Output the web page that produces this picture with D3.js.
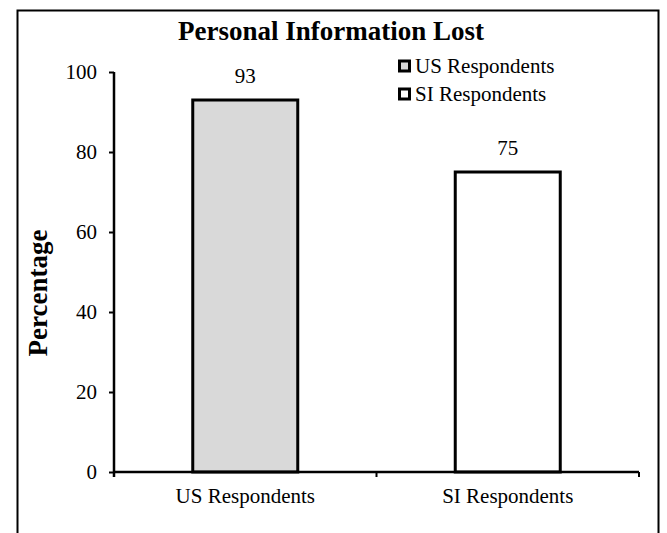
<!DOCTYPE html>
<html>
<head>
<meta charset="utf-8">
<script src="https://cdn.jsdelivr.net/npm/d3@7"></script>
<style>
  html, body { margin: 0; padding: 0; background: #fff; }
  svg { display: block; font-family: "Liberation Serif", "Times New Roman", serif; }
</style>
</head>
<body>
<svg id="chart" width="667" height="533"></svg>
<script>
// Survey results: share of respondents reporting lost personal information
const categories = ["US Respondents", "SI Respondents"];
const values = [93, 75];
const fills = ["#d9d9d9", "#ffffff"];
const yTicks = [0, 20, 40, 60, 80, 100];
const chartTitle = "Personal Information Lost";
const yTitle = "Percentage";

const svg = d3.select("#chart");
const FONT = "Liberation Serif, Times New Roman, serif";

// outer frame
svg.append("rect")
  .attr("x", 17.5).attr("y", 10.5)
  .attr("width", 641).attr("height", 540)
  .attr("fill", "none").attr("stroke", "#000").attr("stroke-width", 2);

const plot = { left: 114, right: 639, top: 72, bottom: 472 };

const x = d3.scaleBand().domain(categories)
  .range([plot.left, plot.right]).paddingInner(0.6).paddingOuter(0.3);
const y = d3.scaleLinear().domain([0, 100]).range([plot.bottom, plot.top]);

// bars
svg.selectAll("rect.bar").data(categories).join("rect")
  .attr("class", "bar")
  .attr("x", d => x(d))
  .attr("y", (d, i) => y(values[i]))
  .attr("width", x.bandwidth())
  .attr("height", (d, i) => y(0) - y(values[i]))
  .attr("fill", (d, i) => fills[i])
  .attr("stroke", "#000").attr("stroke-width", 3);

// value labels
svg.selectAll("text.val").data(categories).join("text")
  .attr("class", "val")
  .attr("x", d => x(d) + x.bandwidth() / 2)
  .attr("y", (d, i) => y(values[i]) - 17)
  .attr("text-anchor", "middle")
  .attr("font-size", 21)
  .text((d, i) => values[i]);

// y axis
const yAxis = svg.append("g")
  .attr("transform", `translate(${plot.left},0)`)
  .call(d3.axisLeft(y).tickValues(yTicks).tickSize(5).tickPadding(12).tickSizeOuter(0));
yAxis.select(".domain").attr("stroke-width", 2.5).attr("d", `M0,${plot.top}V${plot.bottom + 5}`);
yAxis.selectAll(".tick line").attr("stroke-width", 2);
yAxis.selectAll(".tick text")
  .attr("font-size", 21).attr("font-family", FONT).attr("fill", "#000");

// x axis with boundary ticks between categories
const xAxisG = svg.append("g");
xAxisG.append("line")
  .attr("x1", plot.left).attr("x2", plot.right)
  .attr("y1", plot.bottom).attr("y2", plot.bottom)
  .attr("stroke", "#000").attr("stroke-width", 2.5);
const bounds = [x(categories[0]) + x.bandwidth() + (x.step() - x.bandwidth()) / 2, plot.right];
xAxisG.selectAll("line.b").data(bounds).join("line")
  .attr("class", "b")
  .attr("x1", d => d).attr("x2", d => d)
  .attr("y1", plot.bottom).attr("y2", plot.bottom + 5)
  .attr("stroke", "#000").attr("stroke-width", 2);
xAxisG.selectAll("text").data(categories).join("text")
  .attr("x", d => x(d) + x.bandwidth() / 2)
  .attr("y", plot.bottom + 31)
  .attr("text-anchor", "middle")
  .attr("font-size", 21)
  .text(d => d);

// title
svg.append("text")
  .attr("x", 331).attr("y", 40)
  .attr("text-anchor", "middle")
  .attr("font-size", 27).attr("font-weight", "bold")
  .text(chartTitle);

// y axis title
svg.append("text")
  .attr("transform", `translate(47,293) rotate(-90)`)
  .attr("text-anchor", "middle")
  .attr("font-size", 27).attr("font-weight", "bold")
  .text(yTitle);

// legend
const legend = svg.append("g").attr("transform", "translate(398,0)");
categories.forEach((c, i) => {
  const ly = 73 + i * 28;
  legend.append("rect")
    .attr("x", 1.5).attr("y", ly - 12)
    .attr("width", 10).attr("height", 10)
    .attr("fill", fills[i]).attr("stroke", "#000").attr("stroke-width", 3);
  legend.append("text")
    .attr("x", 17).attr("y", ly)
    .attr("font-size", 21)
    .text(c);
});
</script>
</body>
</html>
